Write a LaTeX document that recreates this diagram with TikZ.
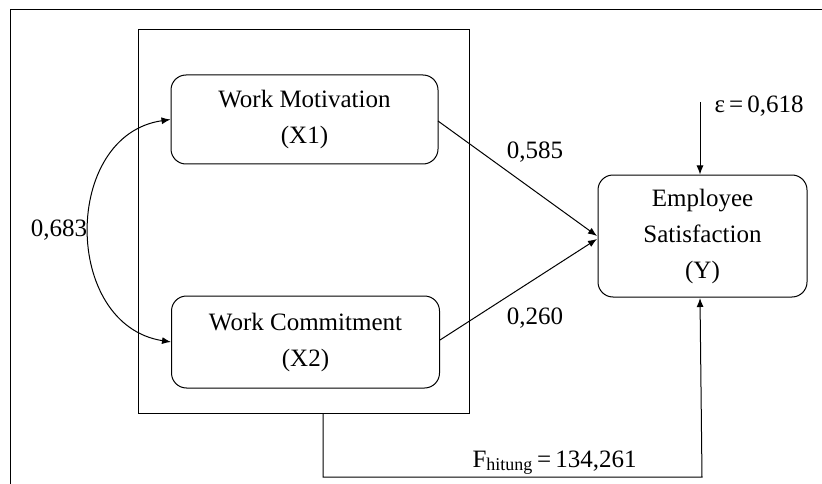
\documentclass[tikz,border=0pt]{standalone}
\usepackage{fontspec}
\setmainfont{Liberation Serif}
\usetikzlibrary{arrows.meta}
\begin{document}
\begin{tikzpicture}[x=1pt,y=-1pt,
  line width=1pt,
  every node/.style={font=\fontsize{25}{36}\selectfont},
  varbox/.style={draw, rounded corners=15pt, align=center, inner sep=0pt},
  lbl/.style={inner sep=0pt},
  arr/.style={-{Latex[length=9pt,width=7pt]}},
  darr/.style={{Latex[length=9pt,width=7pt]}-{Latex[length=9pt,width=7pt]}}
]
\useasboundingbox (0,0) rectangle (822,484);
% outer frame (continues past the image)
\draw (10,490) -- (10,10) -- (830,10);
% group rectangle
\node[draw, minimum width=331pt, minimum height=383pt, inner sep=0pt] (grp) at (303.5,221.5) {};
% variable boxes
\node[varbox, minimum width=267pt, minimum height=89pt] (wm) at (304.5,119.5) {Work Motivation\\(X1)};
\node[varbox, minimum width=268pt, minimum height=92pt] (wc) at (305.5,342) {Work Commitment\\(X2)};
\node[varbox, minimum width=209pt, minimum height=122pt] (es) at (702.5,236) {Employee\\Satisfaction\\(Y)};
% coordinates
\coordinate (wmR) at (438,121);
\coordinate (wcR) at (440,340);
\coordinate (esL1) at (597,236);
\coordinate (esL2) at (597,239);
\coordinate (epsTop) at (700,102);
\coordinate (fA) at (323,413);
\coordinate (fB) at (323,477);
\coordinate (fC) at (702,477);
\coordinate (fD) at (700,298);
% paths
\draw[arr] (wmR) -- (esL1);
\draw[arr] (wcR) -- (esL2);
\draw[darr] (wm.west) .. controls (62,135) and (62,325) .. (wc.west);
\draw[arr] (epsTop) -- (es.north -| epsTop);
\draw[arr] (fA) -- (fB) -- (fC) -- (fD);
% labels
\node[lbl] (l683) at (59,230) {0,683};
\node[lbl] (l585) at (535,152) {0,585};
\node[lbl] (l260) at (535,318) {0,260};
\node[lbl, anchor=west] (leps) at (714,106) {ε\,=\,0,618};
\node[lbl, anchor=base west] (lF) at (472,467) {F\textsubscript{\fontsize{18}{20}\selectfont hitung}\,=\,134,261};
\end{tikzpicture}
\end{document}
